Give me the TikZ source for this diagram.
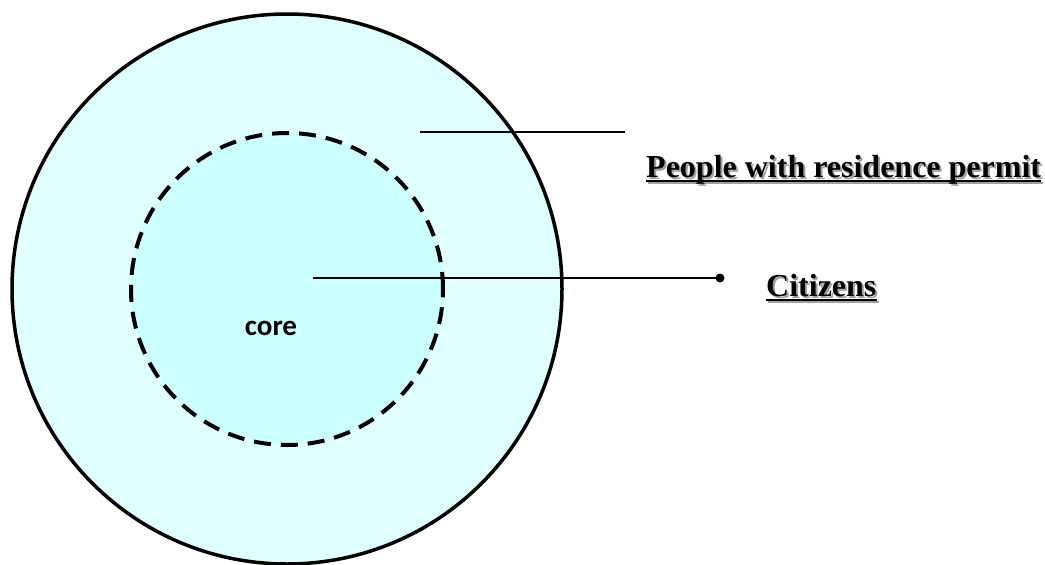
\documentclass[tikz,border=0pt]{standalone}
\usepackage{fontspec}
\setmainfont{Liberation Serif}
\newfontfamily\carlito{Carlito}
\usetikzlibrary{calc}
\definecolor{outerfill}{HTML}{E0FFFF}
\definecolor{innerfill}{HTML}{CCFFFF}
\definecolor{shadowgray}{HTML}{A0A0A0}
\tikzset{
  ring/.style={circle, draw=black, inner sep=0pt},
  leader/.style={draw=black, line width=2pt},
  labeltext/.style={anchor=base west, inner sep=0pt, font=\bfseries\fontsize{32}{38}\selectfont},
  coretext/.style={anchor=base, inner sep=0pt, font=\carlito\bfseries\fontsize{29}{35}\selectfont},
}
\begin{document}
\begin{tikzpicture}[x=1pt,y=-1pt]
\useasboundingbox (0,0) rectangle (1045,565);
% circles
\node[ring, fill=outerfill, line width=3.5pt, minimum size=550pt] (outer) at (287,289) {};
\node[ring, fill=innerfill, line width=4pt, dash pattern=on 17pt off 10pt, minimum size=312pt] (inner) at (287,289) {};
\node[coretext] (core) at (271,335) {core};
% leader lines
\coordinate (r1) at (420,132);
\coordinate (r2) at (625,132);
\coordinate (c1) at (313,278);
\coordinate (c2) at (720,278);
\draw[leader] (r1) -- (r2);
\draw[leader] (c1) -- (c2);
\fill (c2) circle (4.5pt);
% labels with shadow
\node[labeltext, text=shadowgray] (pps) at (648,179) {People with residence permit};
\draw[shadowgray, line width=2pt] ($(pps.base west)+(0,4)$) -- ($(pps.base east)+(0,4)$);
\node[labeltext] (pp) at (646,177) {People with residence permit};
\draw[black, line width=2pt] ($(pp.base west)+(0,4)$) -- ($(pp.base east)+(0,4)$);
\node[labeltext, text=shadowgray] (cts) at (768,298) {Citizens};
\draw[shadowgray, line width=2pt] ($(cts.base west)+(0,4)$) -- ($(cts.base east)+(0,4)$);
\node[labeltext] (ct) at (766,296) {Citizens};
\draw[black, line width=2pt] ($(ct.base west)+(0,4)$) -- ($(ct.base east)+(0,4)$);
\end{tikzpicture}
\end{document}
